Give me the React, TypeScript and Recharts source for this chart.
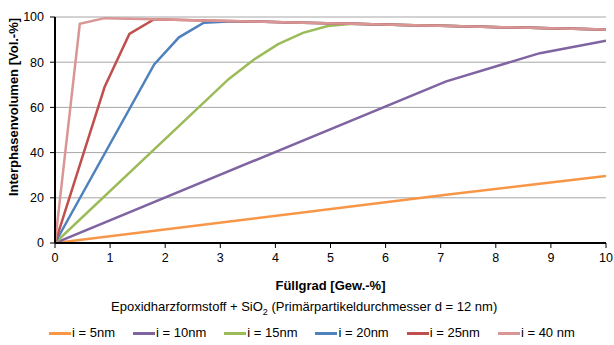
import React from 'react';
import { LineChart, Line, XAxis, YAxis, CartesianGrid, Legend, Label } from 'recharts';

// Füllgrad [Gew.-%] / Interphasenvolumen [Vol.-%] per Interphasendicke
const x5 = [0, 7.1, 8.8, 10];
const v5 = [0, 21.3, 26.2, 29.6];

const x10 = [0, 7.1, 8.8, 10];
const v10 = [0, 71.5, 84, 89.5];

const x15 = [0, 3.15, 3.6, 4.05, 4.5, 4.95, 5.4, 6.3, 7.2, 8.1, 9, 10];
const v15 = [0, 72.5, 81, 88, 93, 96, 97, 96.5, 96, 95.5, 95, 94.5];

const x20 = [0, 1.8, 2.25, 2.7, 3.15, 3.6, 4.5, 5.4, 6.3, 7.2, 8.1, 9, 10];
const v20 = [0, 79, 91, 97.5, 98, 98, 97.5, 97, 96.5, 96, 95.5, 95, 94.5];

const x25 = [0, 0.9, 1.35, 1.8, 2.7, 3.6, 4.5, 5.4, 6.3, 7.2, 8.1, 9, 10];
const v25 = [0, 69, 92.5, 99, 98.5, 98, 97.5, 97, 96.5, 96, 95.5, 95, 94.5];

const x40 = [0, 0.45, 0.9, 1.8, 2.7, 3.6, 4.5, 5.4, 6.3, 7.2, 8.1, 9, 10];
const v40 = [0, 97, 99.5, 99, 98.5, 98, 97.5, 97, 96.5, 96, 95.5, 95, 94.5];

const xTicks = [0, 1, 2, 3, 4, 5, 6, 7, 8, 9, 10];
const yTicks = [0, 20, 40, 60, 80, 100];

const toPoints = (xs: number[], ys: number[]) => xs.map((x, i) => ({ x, y: ys[i] }));

const SERIES = [
  { name: 'i = 5nm', color: '#F79646', data: toPoints(x5, v5) },
  { name: 'i = 10nm', color: '#8064A2', data: toPoints(x10, v10) },
  { name: 'i = 15nm', color: '#9BBB59', data: toPoints(x15, v15) },
  { name: 'i = 20nm', color: '#4F81BD', data: toPoints(x20, v20) },
  { name: 'i = 25nm', color: '#C0504D', data: toPoints(x25, v25) },
  { name: 'i = 40 nm', color: '#D99694', data: toPoints(x40, v40) },
];

const FONT = '"Liberation Sans", Arial, sans-serif';

const CustomLegend = () => (
  <div style={{ fontFamily: FONT, color: '#000' }}>
    <div style={{ fontSize: 13, lineHeight: '22px', height: 22, paddingLeft: 111, whiteSpace: 'nowrap' }}>
      Epoxidharzformstoff + SiO<sub style={{ fontSize: 9, lineHeight: 0 }}>2</sub> (Primärpartikeldurchmesser d = 12 nm)
    </div>
    <div style={{ display: 'flex', paddingLeft: 49, fontSize: 13, lineHeight: '30px', height: 30 }}>
      {SERIES.map((s) => (
        <div key={s.name} style={{ display: 'flex', alignItems: 'center', marginRight: 18, whiteSpace: 'nowrap' }}>
          <span style={{ display: 'inline-block', width: 22, height: 3, background: s.color, marginRight: 1 }} />
          <span>{s.name}</span>
        </div>
      ))}
    </div>
  </div>
);

const YTitle = () => (
  <text
    x={13}
    y={107}
    transform="rotate(-90, 13, 107)"
    textAnchor="middle"
    dominantBaseline="central"
    style={{ fill: '#000', fontSize: 13, fontWeight: 'bold', fontFamily: FONT }}
  >
    Interphasenvolumen [Vol.-%]
  </text>
);

export default function App() {
  return (
    <div style={{ position: 'absolute', left: 0, top: 0, background: '#fff' }}>
      <LineChart width={614} height={345} margin={{ top: 17, right: 8, left: 0, bottom: 0 }}>
        <CartesianGrid stroke="#a6a6a6" vertical={false} />
        <XAxis
          type="number"
          dataKey="x"
          domain={[0, 10]}
          ticks={xTicks}
          height={48}
          axisLine={{ stroke: '#000', strokeWidth: 2 }}
          tickLine={{ stroke: '#000' }}
          tickSize={5}
          tickMargin={5}
          tick={{ fill: '#000', fontSize: 12.5, fontFamily: FONT }}
          allowDataOverflow
        >
          <Label
            value="Füllgrad [Gew.-%]"
            position="insideBottom"
            offset={1}
            style={{ fill: '#000', fontSize: 13, fontWeight: 'bold', fontFamily: FONT }}
          />
        </XAxis>
        <YAxis
          type="number"
          domain={[0, 100]}
          ticks={yTicks}
          width={55}
          axisLine={{ stroke: '#000', strokeWidth: 2 }}
          tickLine={{ stroke: '#000' }}
          tickSize={5}
          tickMargin={6}
          tick={{ fill: '#000', fontSize: 12.5, fontFamily: FONT }}
        >
          <Label content={<YTitle />} />
        </YAxis>
        <Legend
          verticalAlign="bottom"
          height={54}
          content={<CustomLegend />}
          wrapperStyle={{ top: 296, bottom: 'auto', left: 0, width: 614 }}
        />
        {SERIES.map((s) => (
          <Line
            key={s.name}
            data={s.data}
            dataKey="y"
            name={s.name}
            type="linear"
            stroke={s.color}
            strokeWidth={2.5}
            dot={false}
            isAnimationActive={false}
          />
        ))}
      </LineChart>
    </div>
  );
}
